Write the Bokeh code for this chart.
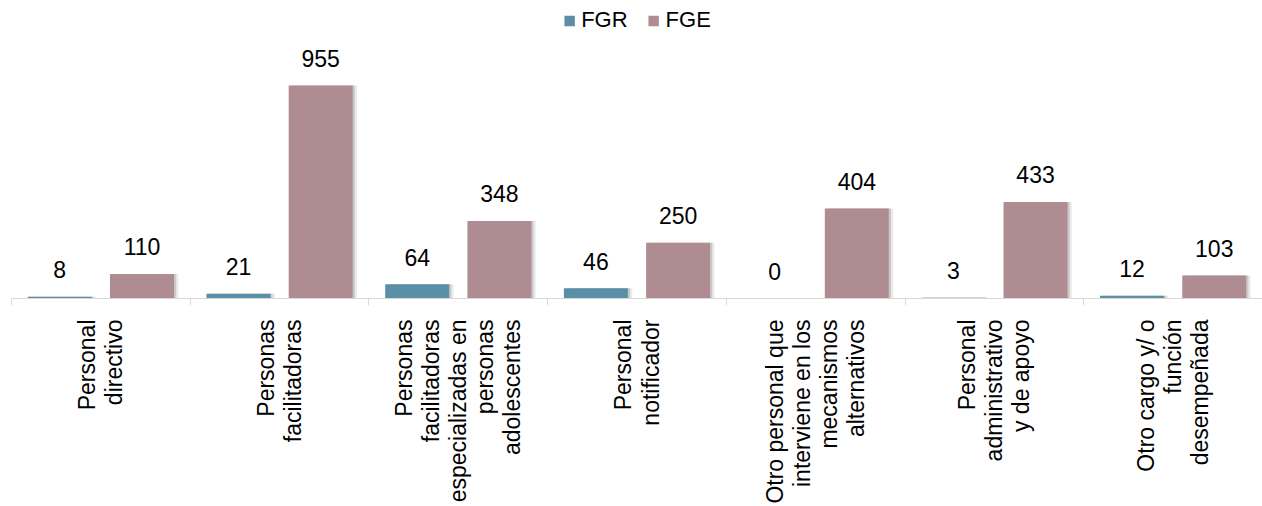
from bokeh.plotting import figure
from bokeh.models import ColumnDataSource, Range1d, FixedTicker, Legend, LegendItem
from bokeh.transform import dodge
from bokeh.core.properties import value
from bokeh.embed import file_html
from bokeh.resources import INLINE
import math

categories = [
    "Personal\ndirectivo",
    "Personas\nfacilitadoras",
    "Personas\nfacilitadoras\nespecializadas en\npersonas\nadolescentes",
    "Personal\nnotificador",
    "Otro personal que\ninterviene en los\nmecanismos\nalternativos",
    "Personal\nadministrativo\ny de apoyo",
    "Otro cargo y/ o\nfunción\ndesempeñada",
]
fgr = [8, 21, 64, 46, 0, 3, 12]
fge = [110, 955, 348, 250, 404, 433, 103]
series_names = ["FGR", "FGE"]

FONT = "Liberation Sans"
C_FGR = "#5b8fa7"
C_FGE = "#ae8c91"

n = len(categories)
centers = [i + 0.5 for i in range(n)]
src = ColumnDataSource(dict(
    xc=centers,
    fgr=fgr,
    fge=fge,
    fgr_lbl=[str(v) for v in fgr],
    fge_lbl=[str(v) for v in fge],
))

p = figure(width=1262, height=506, output_backend="svg", toolbar_location=None,
           x_range=Range1d(0, n), y_range=Range1d(0, 1336),
           y_axis_location=None, min_border_left=11, min_border_right=0,
           min_border_top=0, min_border_bottom=208)
p.outline_line_color = None
p.xgrid.visible = False
p.ygrid.visible = False

bw = 0.358
off = 0.23
# soft shadows
for k, a in [(0.012, 0.22), (0.024, 0.12)]:
    p.vbar(x=dodge("xc", -off + k, range=p.x_range), top="fgr", width=bw, source=src,
           fill_color="#555555", fill_alpha=a, line_color=None)
    p.vbar(x=dodge("xc", off + k, range=p.x_range), top="fge", width=bw, source=src,
           fill_color="#555555", fill_alpha=a, line_color=None)

r1 = p.vbar(x=dodge("xc", -off, range=p.x_range), top="fgr", width=bw, source=src,
            fill_color=C_FGR, line_color=None)
r2 = p.vbar(x=dodge("xc", off, range=p.x_range), top="fge", width=bw, source=src,
            fill_color=C_FGE, line_color=None)

for col, lbl, o in [("fgr", "fgr_lbl", -off), ("fge", "fge_lbl", off)]:
    p.text(x=dodge("xc", o, range=p.x_range), y=col, text=lbl, source=src,
           text_align="center", text_baseline="alphabetic", y_offset=-27,
           text_font=value(FONT), text_font_size="23px", text_color="#000000")

ax = p.xaxis[0]
ax.ticker = FixedTicker(ticks=centers, minor_ticks=list(range(n + 1)))
ax.major_label_overrides = {c: lab for c, lab in zip(centers, categories)}
ax.major_label_orientation = math.pi / 2
ax.major_label_text_font = FONT
ax.major_label_text_font_size = "23px"
ax.major_label_text_line_height = 1.04
ax.major_label_text_color = "#000000"
ax.major_label_standoff = 14
ax.major_tick_line_color = None
ax.major_tick_out = 0
ax.major_tick_in = 0
ax.minor_tick_line_color = "#d9d9d9"
ax.minor_tick_out = 7
ax.minor_tick_in = 0
ax.axis_line_color = "#d9d9d9"
ax.axis_line_width = 1

legend = Legend(items=[LegendItem(label=series_names[0], renderers=[r1]),
                       LegendItem(label=series_names[1], renderers=[r2])],
                location="top_center", orientation="horizontal")
legend.border_line_color = None
legend.background_fill_alpha = 0
legend.label_text_font = FONT
legend.label_text_font_size = "22px"
legend.label_text_color = "#000000"
legend.glyph_width = 13
legend.glyph_height = 13
legend.label_standoff = 6
legend.spacing = 19
legend.padding = 2
legend.margin = 7
p.add_layout(legend)

open("out.html", "w").write(file_html(p, INLINE))
